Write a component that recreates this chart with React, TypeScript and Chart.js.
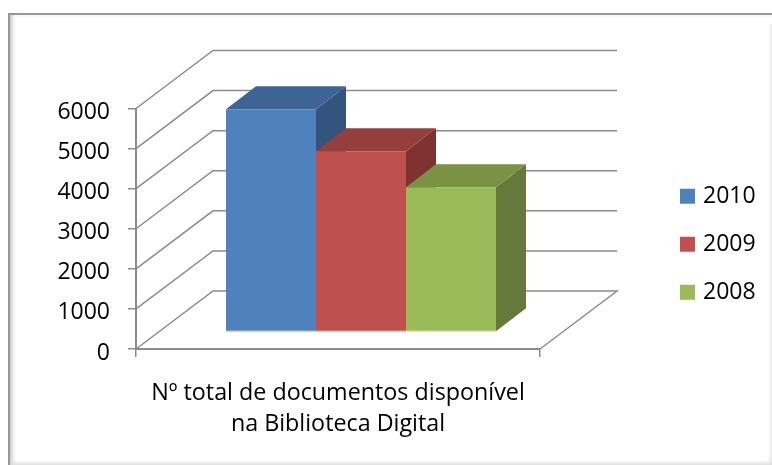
import React, { useEffect, useRef } from "react";
import { Chart, registerables } from "chart.js";

Chart.register(...registerables);

const categories = [["Nº total de documentos disponível", "na Biblioteca Digital"]];
const seriesNames = ["2010", "2009", "2008"];
const values2010 = [5560];
const values2009 = [4510];
const values2008 = [3610];
const frontColors = ["#4f81bd", "#c0504d", "#9bbb59"];
const topColors = ["#3d6494", "#953f3c", "#799244"];
const sideColors = ["#345480", "#7f3331", "#66793b"];
const edgeColors = ["#8fb0d8", "#d88a88", "#bcd48c"];

const FONT = "'Open Sans', sans-serif";
const WALL = { dx: 77, dy: -58 };
const BAR = { ox: 23, oy: -17, dx: 30, dy: -23 };
const AXIS = "#8c8c8c";

function face(ctx: CanvasRenderingContext2D, pts: number[][], fill: string) {
  ctx.beginPath();
  pts.forEach((p, i) => (i ? ctx.lineTo(p[0], p[1]) : ctx.moveTo(p[0], p[1])));
  ctx.closePath();
  ctx.fillStyle = fill;
  ctx.fill();
}

const threeD = {
  id: "threeD",
  afterLayout(chart: any) {
    const legend = chart.legend;
    const pad = legend.options.labels.padding;
    legend.left = 683.5 - pad;
    legend.right = legend.left + legend.width;
    legend.top = 124;
    legend.bottom = legend.top + legend.height;
  },
  beforeDatasetsDraw(chart: any) {
    const { ctx, chartArea, scales } = chart;
    const y = scales.y;
    const l = chartArea.left;
    const r = chartArea.right;
    ctx.save();
    ctx.strokeStyle = AXIS;
    ctx.lineWidth = 1.5;
    y.ticks.forEach((t: any) => {
      const py = y.getPixelForValue(t.value);
      ctx.beginPath();
      ctx.moveTo(l, py);
      ctx.lineTo(l + WALL.dx, py + WALL.dy);
      ctx.lineTo(r + WALL.dx, py + WALL.dy);
      if (t.value === 0) ctx.lineTo(r, py);
      ctx.stroke();
    });
    ctx.translate(BAR.ox, BAR.oy);
    chart.data.datasets.forEach((_: any, i: number) => {
      const el = chart.getDatasetMeta(i).data[0];
      const half = el.width / 2;
      const x0 = el.x - half;
      const x1 = el.x + half;
      const top = el.y;
      const base = el.base;
      face(ctx, [[x1, top], [x1 + BAR.dx, top + BAR.dy], [x1 + BAR.dx, base + BAR.dy], [x1, base]], sideColors[i]);
      face(ctx, [[x0, top], [x0 + BAR.dx, top + BAR.dy], [x1 + BAR.dx, top + BAR.dy], [x1, top]], topColors[i]);
    });
    ctx.restore();
    ctx.save();
    ctx.translate(BAR.ox, BAR.oy);
  },
  afterDatasetsDraw(chart: any) {
    const { ctx } = chart;
    chart.data.datasets.forEach((_: any, i: number) => {
      const el = chart.getDatasetMeta(i).data[0];
      const half = el.width / 2;
      ctx.strokeStyle = edgeColors[i];
      ctx.lineWidth = 1;
      ctx.beginPath();
      ctx.moveTo(el.x - half, el.base - 0.5);
      ctx.lineTo(el.x + half, el.base - 0.5);
      ctx.stroke();
    });
    ctx.restore();
  },
};

export default function App() {
  const ref = useRef<HTMLCanvasElement>(null);
  useEffect(() => {
    const chart = new Chart(ref.current!, {
      type: "bar",
      data: {
        labels: categories as any,
        datasets: [
          { label: seriesNames[0], data: values2010, backgroundColor: frontColors[0] },
          { label: seriesNames[1], data: values2009, backgroundColor: frontColors[1] },
          { label: seriesNames[2], data: values2008, backgroundColor: frontColors[2] },
        ],
      },
      options: {
        animation: false,
        responsive: false,
        datasets: { bar: { categoryPercentage: 270 / 404, barPercentage: 1, borderWidth: 0 } },
        layout: { padding: { left: 0, top: 108.5, right: 232, bottom: 0 } },
        plugins: {
          title: { display: false },
          tooltip: { enabled: false },
          legend: {
            position: "chartArea" as any,
            labels: {
              boxWidth: 8,
              boxHeight: 8,
              padding: 25,
              color: "#000",
              font: { family: FONT, size: 23 },
              generateLabels: (c: any) =>
                Chart.defaults.plugins.legend.labels
                  .generateLabels(c)
                  .map((it: any) => ({ ...it, strokeStyle: it.fillStyle, lineWidth: 7 })),
            },
          },
        },
        scales: {
          x: {
            afterFit: (s: any) => { s.height = 116; },
            grid: { offset: true, drawOnChartArea: false, drawTicks: true, tickLength: 8, color: AXIS, lineWidth: 1.5 },
            border: { color: AXIS, width: 2 },
            ticks: { color: "#000", padding: 21, maxRotation: 0, font: { family: FONT, size: 23.3, lineHeight: 1.34 } },
          },
          y: {
            min: 0,
            max: 6000,
            afterFit: (s: any) => { s.width = 136; },
            grid: { drawOnChartArea: false, drawTicks: true, tickLength: 8, color: AXIS, lineWidth: 1.5 },
            border: { color: AXIS, width: 2 },
            ticks: {
              stepSize: 1000,
              color: "#000",
              padding: 18,
              labelOffset: 4,
              font: { family: FONT, size: 23 },
              callback: (v: any) => String(v),
            },
          },
        },
      },
      plugins: [threeD],
    } as any);
    return () => chart.destroy();
  }, []);
  return (
    <div style={{ position: "absolute", left: 0, top: 0, width: 772, height: 465, overflow: "hidden", background: "#fff" }}>
      <canvas ref={ref} width={772} height={465} style={{ display: "block" }} />
      <div
        style={{
          position: "absolute", left: 8, top: 13, width: 764, height: 452, boxSizing: "border-box",
          borderTop: "2px solid #989898", borderLeft: "2px solid #989898",
          boxShadow: "inset 4px 0 4px -2px #c4c4c4", pointerEvents: "none",
        }}
      />
      <div
        style={{
          position: "absolute", left: 10, top: 24, width: 762, height: 441,
          boxShadow: "inset -3px -4px 4px -2px #dcdcdc", pointerEvents: "none",
        }}
      />
    </div>
  );
}
